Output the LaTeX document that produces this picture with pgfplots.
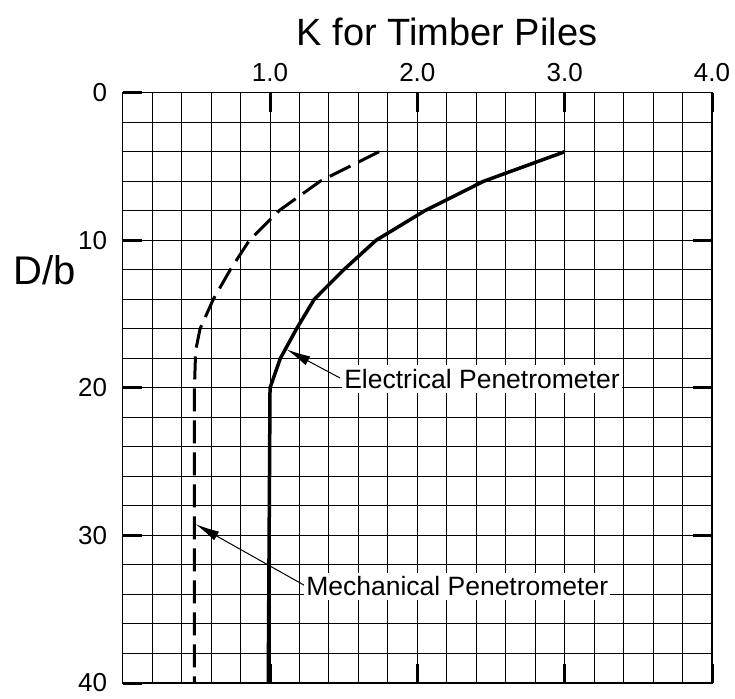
\documentclass[border=0pt]{standalone}
\usepackage{pgfplots}
\pgfplotsset{compat=1.18}
\usepackage{fontspec}
\setmainfont{Liberation Sans}
\usetikzlibrary{arrows.meta}

\begin{document}
\begin{tikzpicture}
\begin{axis}[
  at={(0,0)}, anchor=south west,
  scale only axis, width=589.3pt, height=590.3pt,
  xmin=0, xmax=4, ymin=0, ymax=40, y dir=reverse,
  xtick={1,2,3,4}, xticklabels={1.0,2.0,3.0,4.0},
  xticklabel pos=upper,
  ytick={10,20,30}, yticklabels={10,20,30},
  extra y ticks={0,40}, extra y tick labels={0,40},
  extra y tick style={tick pos=left},
  minor xtick={0,0.2,...,4.01}, minor ytick={0,2,...,40},
  grid=both,
  major grid style={black, line width=1pt},
  minor grid style={black, line width=1pt},
  major tick length=19pt, minor tick length=0pt,
  every tick/.style={black, line width=3pt},
  axis line style={black, line width=1.5pt},
  tick label style={font=\fontsize{26}{26}\selectfont},
  xticklabel style={yshift=7pt},
  yticklabel style={xshift=-12pt},
  /pgf/number format/assume math mode=true,
  clip=false,
]
\addplot[black, line width=3.5pt, line join=round] coordinates {
  (3.0,4) (2.45,6) (2.05,8) (1.72,10) (1.5,12) (1.3,14) (1.18,16) (1.07,18) (1.0,20) (0.988,40)};
\addplot[black, line width=3pt, line join=round, dash pattern=on 23pt off 9pt] coordinates {
  (1.74,4) (1.34,6) (1.06,8) (0.86,10) (0.73,12) (0.615,14) (0.525,16) (0.495,17.5) (0.487,20) (0.486,40)};
\draw[line width=1pt, -{Latex[length=24pt,width=10pt]}] (axis cs:1.475,19.33) -- (axis cs:1.113,17.4);
\draw[line width=1pt, -{Latex[length=24pt,width=10pt]}] (axis cs:1.249,33.47) -- (axis cs:0.495,29.24);
\node[anchor=west, fill=white, inner xsep=2pt, inner ysep=4pt, font=\fontsize{26.5}{26.5}\selectfont] at (axis cs:1.489,19.4) {Electrical Penetrometer};
\node[anchor=west, fill=white, inner xsep=2pt, inner ysep=4pt, font=\fontsize{26.5}{26.5}\selectfont] at (axis cs:1.231,33.45) {Mechanical Penetrometer};
\end{axis}
\node[font=\fontsize{38}{38}\selectfont] at (324.3pt,651pt) {K for Timber Piles};
\node[font=\fontsize{40}{40}\selectfont] at (-77.7pt,413pt) {D/b};
\pgfresetboundingbox
\useasboundingbox (-122.7pt,-15pt) rectangle (612.3pt,683pt);
\end{tikzpicture}
\end{document}
